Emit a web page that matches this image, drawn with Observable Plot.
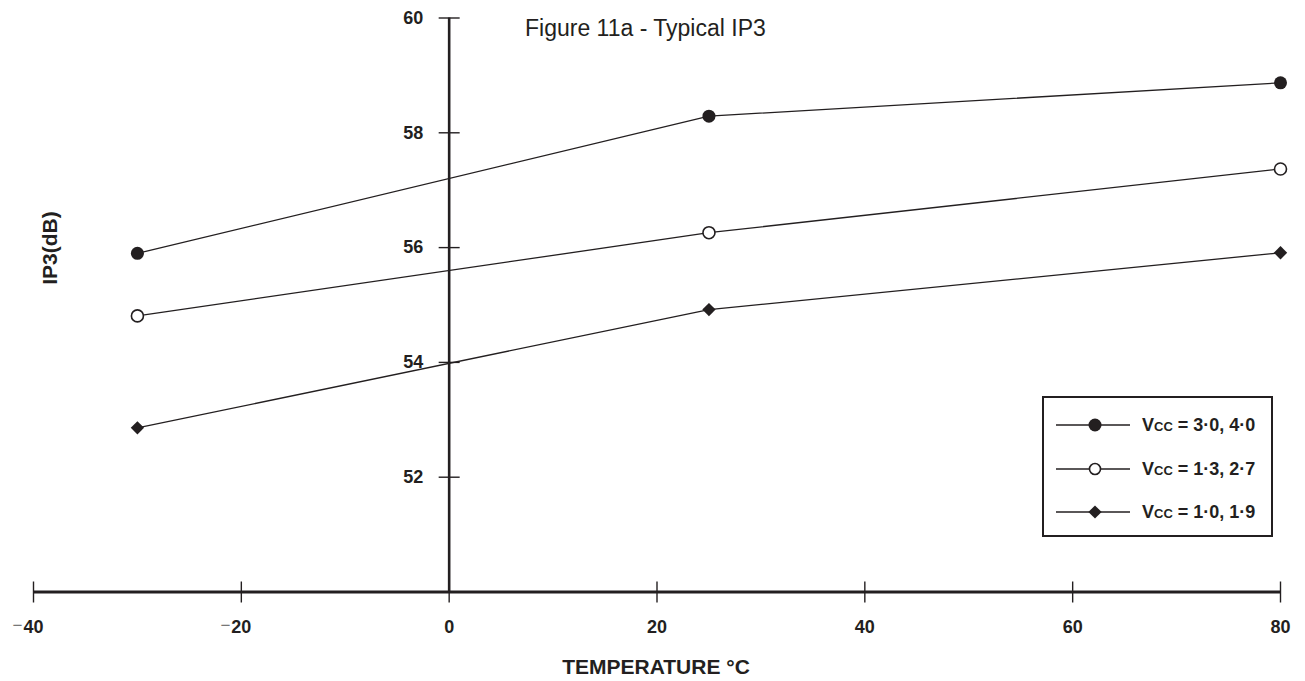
<!DOCTYPE html>
<html>
<head>
<meta charset="utf-8">
<script src="https://cdn.jsdelivr.net/npm/d3@7"></script>
<script src="https://cdn.jsdelivr.net/npm/@observablehq/plot@0.6"></script>
<style>
  body { margin: 0; background: #fff; font-family: "Liberation Sans", Arial, Helvetica, sans-serif; color: #231f20; }
  #wrap { position: relative; width: 1305px; height: 681px; overflow: hidden; }
  #wrap svg { display: block; }
  .title { position: absolute; left: 525px; top: 17px; font-size: 23px; line-height: 23px; white-space: nowrap; }
  .xtitle { position: absolute; left: 506px; width: 300px; top: 656px; text-align: center; font-size: 21px; line-height: 21px; font-weight: bold; white-space: nowrap; }
  .ytitle { position: absolute; left: 49px; top: 248px; transform: translate(-50%, -50%) rotate(-90deg); font-size: 21px; line-height: 21px; font-weight: bold; white-space: nowrap; }
  .legend { position: absolute; left: 1042px; top: 396px; width: 231px; height: 141px; box-sizing: border-box; border: 2px solid #231f20; background: #fff; }
  .legend .row { position: absolute; left: 12px; height: 20px; }
  .legend svg { position: absolute; left: 0; top: 0; }
  .legend span { position: absolute; left: 86px; top: 0; font-size: 18px; line-height: 20px; font-weight: bold; font-variant: small-caps; white-space: nowrap; }
</style>
</head>
<body>
<div id="wrap"></div>
<script>
// ---- data ----
const temperatures = [-30, 25, 80];
const seriesNames = ["Vcc = 3·0, 4·0", "Vcc = 1·3, 2·7", "Vcc = 1·0, 1·9"];
const ip3Vcc30 = [55.90, 58.29, 58.87];
const ip3Vcc13 = [54.81, 56.26, 57.37];
const ip3Vcc10 = [52.86, 54.92, 55.91];
const xTicks = [-40, -20, 0, 20, 40, 60, 80];
const yTicks = [52, 54, 56, 58, 60];
const chartTitle = "Figure 11a - Typical IP3";
const xLabel = "TEMPERATURE °C";
const yLabel = "IP3(dB)";

const ink = "#231f20";
const seriesValues = [ip3Vcc30, ip3Vcc13, ip3Vcc10];
const rows = seriesNames.flatMap((s, k) => temperatures.map((t, i) => ({series: s, temp: t, ip3: seriesValues[k][i]})));
const rowsOf = (k) => rows.filter(d => d.series === seriesNames[k]);

const chart = Plot.plot({
  width: 1305,
  height: 681,
  marginLeft: 33,
  marginRight: 25,
  marginTop: 17.5,
  marginBottom: 89.5,
  style: {background: "#fff", fontFamily: "'Liberation Sans', Arial, Helvetica, sans-serif", color: ink},
  x: {domain: [-40, 80], axis: null},
  y: {domain: [50, 60], axis: null},
  marks: [
    // x axis line & ticks
    Plot.ruleY([50], {stroke: ink, strokeWidth: 3}),
    Plot.ruleX(xTicks, {x: d => d, y1: 50, y2: 50, insetTop: -10, insetBottom: -11, stroke: ink, strokeWidth: 1.4}),
    // y axis line & ticks
    Plot.ruleX([0], {y1: 50, y2: 60, stroke: ink, strokeWidth: 2.6}),
    Plot.ruleY(yTicks, {y: d => d, x1: 0, x2: 0, insetLeft: -10, insetRight: -11, stroke: ink, strokeWidth: 1.4}),
    // tick labels
    Plot.text(xTicks, {x: d => d, y: 50, dy: 35, text: d => String(Math.abs(d)), fontSize: 18, fontWeight: "bold", fill: ink}),
    Plot.text(xTicks.filter(d => d < 0), {x: d => d, y: 50, dy: 34, dx: -11, textAnchor: "end", text: () => "−", fontSize: 17, fill: "#777"}),
    Plot.text(yTicks, {x: 0, y: d => d, dx: -26, textAnchor: "end", text: d => String(d), fontSize: 18, fontWeight: "bold", fill: ink}),
    // series lines
    Plot.line(rows, {x: "temp", y: "ip3", z: "series", stroke: ink, strokeWidth: 1.3}),
    // markers
    Plot.dot(rowsOf(0), {x: "temp", y: "ip3", r: 6.5, fill: ink, stroke: "none"}),
    Plot.dot(rowsOf(1), {x: "temp", y: "ip3", r: 6, fill: "#fff", stroke: ink, strokeWidth: 1.6}),
    Plot.dot(rowsOf(2), {x: "temp", y: "ip3", symbol: "diamond2", r: 6, fill: ink, stroke: "none"})
  ]
});

const wrap = document.getElementById("wrap");
wrap.appendChild(chart);

function addDiv(cls, text) {
  const d = document.createElement("div");
  d.className = cls;
  d.textContent = text;
  wrap.appendChild(d);
  return d;
}
addDiv("title", chartTitle);
addDiv("xtitle", xLabel);
addDiv("ytitle", yLabel);

// legend
const legend = document.createElement("div");
legend.className = "legend";
const rowTops = [17, 61, 104];
const markerSvg = [
  `<circle cx="39" cy="10" r="6.5" fill="${ink}"/>`,
  `<circle cx="39" cy="10" r="5.5" fill="#fff" stroke="${ink}" stroke-width="1.6"/>`,
  `<path d="M39 3.4 L45.6 10 L39 16.6 L32.4 10 Z" fill="${ink}"/>`
];
seriesNames.forEach((name, k) => {
  const row = document.createElement("div");
  row.className = "row";
  row.style.top = rowTops[k] + "px";
  row.innerHTML = `<svg width="80" height="20"><line x1="0" y1="10" x2="74" y2="10" stroke="${ink}" stroke-width="1.3"/>${markerSvg[k]}</svg><span></span>`;
  row.querySelector("span").textContent = name;
  legend.appendChild(row);
});
wrap.appendChild(legend);
</script>
</body>
</html>
